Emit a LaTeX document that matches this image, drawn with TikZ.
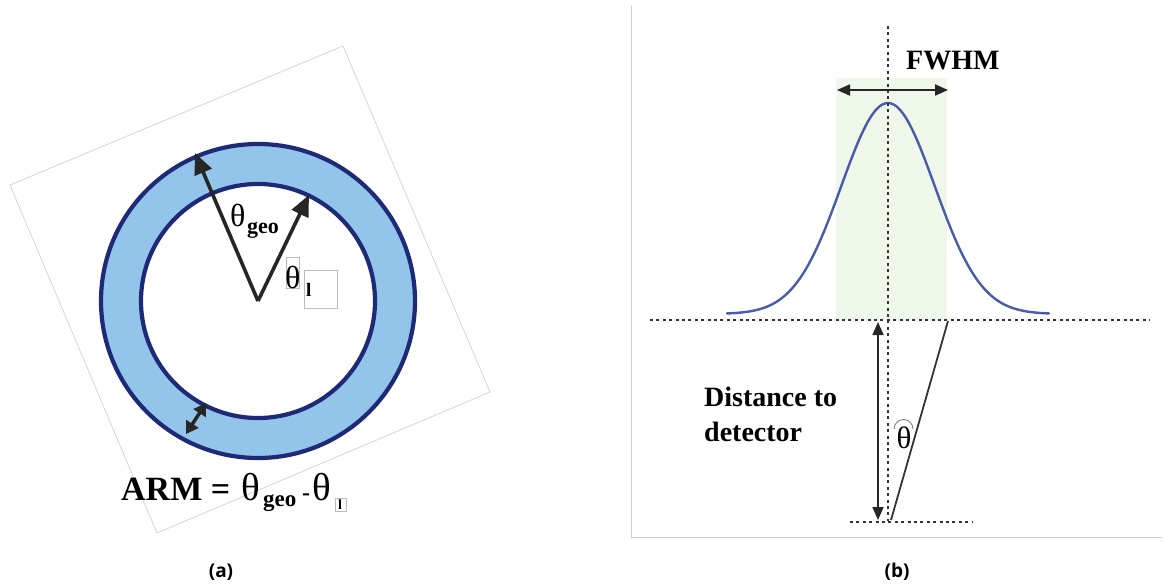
\documentclass[tikz,border=0pt]{standalone}
\usepackage{fontspec}
\setmainfont{Liberation Serif}
\newfontfamily\capfont{Open Sans}
\usetikzlibrary{arrows.meta}
\definecolor{ringfill}{HTML}{93C4EA}
\definecolor{ringline}{HTML}{1E2A78}
\definecolor{gfill}{HTML}{EEF7EA}
\definecolor{gcurve}{HTML}{4A5BA8}
\definecolor{framegray}{HTML}{CFCFCF}
\definecolor{dotgray}{HTML}{333333}
\definecolor{glyphbox}{HTML}{BBBBBB}
\begin{document}
\begin{tikzpicture}[x=1pt,y=-1pt,
  bigarrow/.style={line width=3.6pt,color=black!85,-{Triangle[length=21pt,width=18pt]}},
  smallarrow/.style={line width=3.5pt,color=black!85,{Triangle[length=12pt,width=14pt]}-{Triangle[length=12pt,width=14pt]}},
  dotline/.style={dotgray,line width=2.8pt,dash pattern=on 3pt off 3.4pt},
  thinarrow/.style={line width=1.8pt,black!85,{Triangle[length=13pt,width=11pt]}-{Triangle[length=13pt,width=11pt]}},
  lbl/.style={inner sep=0pt,anchor=base west},
  gbox/.style={draw=glyphbox,line width=0.6pt}
]
\useasboundingbox (0,0) rectangle (1167,587);

% ---------- panel (a) ----------
\draw[framegray,line width=0.7pt] (10,185) -- (343,46) -- (490,392) -- (157,533) -- cycle;

\coordinate (c) at (258,301);
\fill[ringfill,even odd rule] (c) circle[radius=157pt] (c) circle[radius=117pt];
\draw[ringline,line width=4.2pt] (c) circle[radius=157pt];
\draw[ringline,line width=4.2pt] (c) circle[radius=117pt];

\coordinate (g) at (195,153);
\coordinate (l) at (309,195);
\draw[bigarrow] (c) -- (g);
\draw[bigarrow] (c) -- (l);

\coordinate (w1) at (186,434);
\coordinate (w2) at (206,403);
\draw[smallarrow] (w1) -- (w2);

% theta_geo label
\node[lbl,font=\fontsize{32}{32}\selectfont] (tg) at (230,226) {θ};
\node[lbl,font=\bfseries\fontsize{22}{22}\selectfont] (tgs) at (247,233) {geo};

% theta_l label with glyph boxes
\draw[gbox] (286,257) rectangle (299,288);
\draw[gbox] (304,270) rectangle (337,308);
\node[lbl,font=\fontsize{32}{32}\selectfont] (tl) at (285,288) {θ};
\node[lbl,font=\bfseries\fontsize{19}{19}\selectfont] (tls) at (306,296) {l};

% ARM equation
\node[lbl,font=\bfseries\fontsize{34}{34}\selectfont] (arm) at (121,500) {ARM =};
\node[lbl,font=\fontsize{39}{39}\selectfont] (t1) at (241,500) {θ};
\node[lbl,font=\bfseries\fontsize{23}{23}\selectfont] (t1s) at (263,506) {geo};
\node[lbl,font=\bfseries\fontsize{24}{24}\selectfont] (minus) at (302,500) {-};
\node[lbl,font=\fontsize{39}{39}\selectfont] (t2) at (312,500) {θ};
\draw[gbox] (335,498) rectangle (346,511);
\node[lbl,font=\bfseries\fontsize{14}{14}\selectfont] (t2s) at (338,509) {l};

\node[font=\capfont\bfseries\fontsize{19}{19}\selectfont,inner sep=0pt] (capa) at (221,572) {(a)};

% ---------- panel (b) ----------
\draw[framegray,line width=1pt] (631,6) -- (631,537) -- (1162,537);

\fill[gfill] (836,78) rectangle (947,320);
\draw[gcurve,line width=2.4pt,line cap=round] plot[domain=-3.45:3.45,samples=120,smooth]
  ({888+46.7*\x},{314-211*exp(-\x*\x/2)});

\coordinate (ctop) at (888,26);
\coordinate (cbot) at (888,521);
\draw[dotline] (ctop) -- (cbot);
\coordinate (h1) at (650,320);
\coordinate (h2) at (1150,320);
\draw[dotline] (h1) -- (h2);
\coordinate (b1) at (850,522);
\coordinate (b2) at (972,522);
\draw[dotline] (b1) -- (b2);

\coordinate (f1) at (837,90);
\coordinate (f2) at (948,90);
\draw[thinarrow] (f1) -- (f2);
\node[lbl,font=\bfseries\fontsize{28}{28}\selectfont] (fwhm) at (906,69) {FWHM};

\coordinate (d1) at (878,322);
\coordinate (d2) at (878,520);
\draw[thinarrow] (d1) -- (d2);

\coordinate (s1) at (891,520);
\coordinate (s2) at (948,321);
\draw[line width=1.8pt,black!80] (s1) -- (s2);

\draw[gray,line width=0.9pt] (894,429) arc[start angle=180,end angle=0,radius=9.5pt];
\node[font=\fontsize{31}{31}\selectfont,inner sep=0pt] (th) at (904,438) {θ};

\node[lbl,font=\bfseries\fontsize{28}{28}\selectfont] (dist1) at (704,406) {Distance to};
\node[lbl,font=\bfseries\fontsize{28}{28}\selectfont] (dist2) at (704,441) {detector};

\node[font=\capfont\bfseries\fontsize{19}{19}\selectfont,inner sep=0pt] (capb) at (897,572) {(b)};
\end{tikzpicture}
\end{document}
